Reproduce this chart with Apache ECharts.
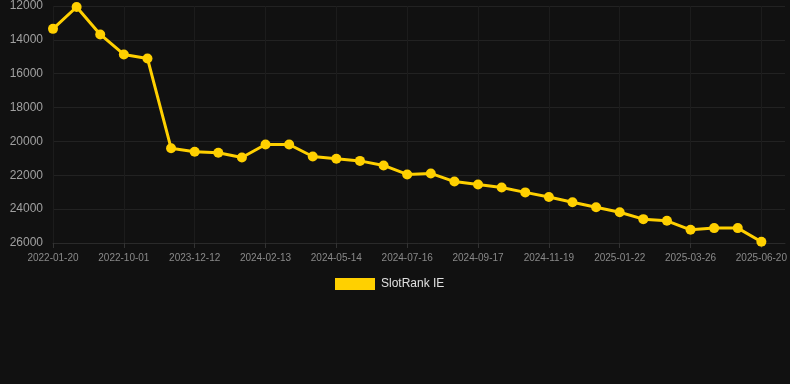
<!DOCTYPE html>
<html>
<head>
<meta charset="utf-8">
<script src="https://cdn.jsdelivr.net/npm/echarts@6/dist/echarts.min.js"></script>
<style>
html,body{margin:0;padding:0;background:#111111;}
#chart{width:790px;height:384px;}
</style>
</head>
<body>
<div id="chart"></div>
<script>
const categories = [
  '2022-01-20','2022-04-15','2022-07-08','2022-10-01','2023-03-10','2023-08-22',
  '2023-12-12','2024-01-02','2024-01-23','2024-02-13','2024-03-14','2024-04-13',
  '2024-05-14','2024-06-04','2024-06-25','2024-07-16','2024-08-06','2024-08-27',
  '2024-09-17','2024-10-08','2024-10-29','2024-11-19','2024-12-10','2024-12-31',
  '2025-01-22','2025-02-12','2025-03-05','2025-03-26','2025-04-24','2025-05-22',
  '2025-06-20'
];
const seriesName = 'SlotRank IE';
const values = [
  13350, 12060, 13680, 14860, 15100, 20400,
  20610, 20670, 20950, 20180, 20180, 20890,
  21020, 21150, 21420, 21950, 21890, 22370,
  22540, 22720, 23010, 23280, 23590, 23890,
  24180, 24590, 24690, 25220, 25120, 25120,
  25930
];
const yMin = 12000, yMax = 26000, yStep = 2000;

const chart = echarts.init(document.getElementById('chart'), null, {renderer:'canvas'});
chart.setOption({
  backgroundColor: '#111111',
  animation: false,
  grid: {left: 53, right: 5, top: 6, bottom: 141, containLabel: false},
  legend: {
    data: [seriesName],
    top: 273,
    left: 330,
    itemWidth: 40,
    itemHeight: 12,
    itemGap: 10,
    icon: 'rect',
    textStyle: {color: '#e0e0e0', fontSize: 12, padding: [0,0,0,1], fontFamily: 'Liberation Sans, Arial, sans-serif'}
  },
  xAxis: {
    type: 'category',
    data: categories,
    boundaryGap: false,
    max: categories.length,
    axisLine: {show: true, lineStyle: {color: '#2a2a2a'}},
    axisTick: {show: true, interval: 2, lineStyle: {color: '#333'}},
    axisLabel: {interval: 2, color: '#8a8a8a', fontSize: 10, margin: 10, fontFamily: 'Liberation Sans, Arial, sans-serif'},
    splitLine: {show: true, interval: 2, lineStyle: {color: '#1c1c1c'}}
  },
  yAxis: {
    type: 'value',
    inverse: true,
    min: yMin, max: yMax, interval: yStep,
    axisLine: {show: false},
    axisTick: {show: false},
    axisLabel: {color: '#a0a0a0', fontSize: 12, margin: 10, formatter: v => String(v), fontFamily: 'Liberation Sans, Arial, sans-serif'},
    splitLine: {show: true, lineStyle: {color: '#222222'}}
  },
  series: [{
    name: seriesName,
    type: 'line',
    data: values,
    symbol: 'circle',
    symbolSize: 10,
    itemStyle: {color: '#FFD000'},
    lineStyle: {color: '#FFD000', width: 3}
  }]
});
</script>
</body>
</html>
